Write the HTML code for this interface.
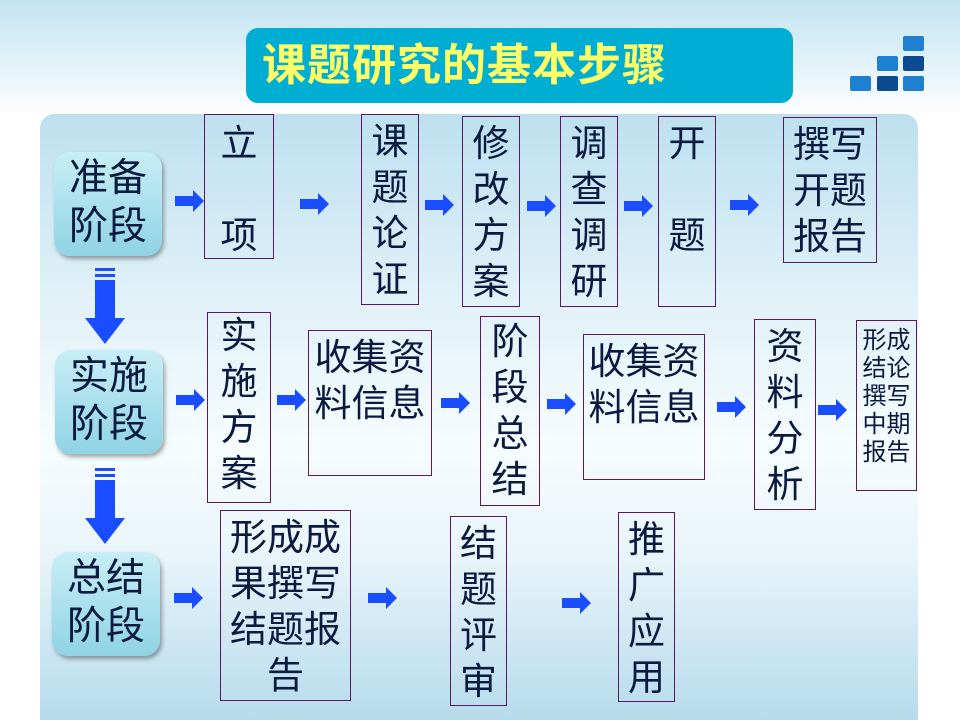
<!DOCTYPE html>
<html><head><meta charset="utf-8"><style>
html,body{margin:0;width:960px;height:720px;overflow:hidden}
body{position:relative;font-family:"Liberation Sans","Noto Sans CJK SC",sans-serif;
background:linear-gradient(#c2e4f1 0px,#eaf6fb 80px,#fff 115px,#fff 720px);}
.panel{position:absolute;left:40px;top:114px;width:878px;height:606px;border-radius:14px 14px 0 0;
background:linear-gradient(#bde0ef 0%,#e0f1f8 30%,#f6fcfe 55%,#eaf5fa 72%,#b6dbec 100%);}
.title{position:absolute;left:246px;top:28px;width:547px;height:75px;background:#00aed3;border-radius:12px;color:#ffff66;font-size:44px;font-weight:bold;line-height:75px;padding-left:16px;box-sizing:border-box;letter-spacing:1px}
.b{position:absolute;border:1.5px solid #5a1860;color:#0a1a40;font-size:37px;line-height:46px;text-align:center;box-sizing:border-box}
.s{position:absolute;width:108px;height:104px;border-radius:16px;background:linear-gradient(#c8eef6,#8fd3e4);box-shadow:2px 3px 4px rgba(0,0,0,.35);color:#0a1a40;font-size:39px;line-height:48px;text-align:center;padding-top:3px;box-sizing:border-box}
.sq{position:absolute;width:21px;height:15px;border-radius:2px}
</style></head><body>
<div class="title">课题研究的基本步骤</div>
<div class="sq" style="left:903px;top:36px;background:#1f7fd0"></div>
<div class="sq" style="left:877px;top:56px;background:#1f7fd0"></div>
<div class="sq" style="left:903px;top:56px;background:#0e4a92"></div>
<div class="sq" style="left:850px;top:76px;background:#1f7fd0"></div>
<div class="sq" style="left:877px;top:76px;background:#0e4a92"></div>
<div class="sq" style="left:903px;top:76px;background:#1f7fd0"></div>
<div class="panel"></div>

<div class="s" style="left:54px;top:152px">准备<br>阶段</div>
<div class="s" style="left:55px;top:350px">实施<br>阶段</div>
<div class="s" style="left:52px;top:552px">总结<br>阶段</div>

<div class="b" style="left:204px;top:114px;width:70px;height:145px;padding-top:6px">立<br><br>项</div>
<div class="b" style="left:361px;top:114px;width:58px;height:191px;padding-top:4px">课<br>题<br>论<br>证</div>
<div class="b" style="left:462px;top:116px;width:58px;height:191px;padding-top:4px">修<br>改<br>方<br>案</div>
<div class="b" style="left:560px;top:116px;width:58px;height:191px;padding-top:4px">调<br>查<br>调<br>研</div>
<div class="b" style="left:658px;top:116px;width:58px;height:191px;padding-top:4px">开<br><br>题</div>
<div class="b" style="left:783px;top:117px;width:94px;height:146px;padding-top:4px">撰写<br>开题<br>报告</div>

<div class="b" style="left:207px;top:312px;width:64px;height:191px;padding-top:0px">实<br>施<br>方<br>案</div>
<div class="b" style="left:308px;top:330px;width:124px;height:146px;padding-top:4px">收集资<br>料信息</div>
<div class="b" style="left:480px;top:316px;width:60px;height:190px;padding-top:2px">阶<br>段<br>总<br>结</div>
<div class="b" style="left:583px;top:334px;width:122px;height:146px;padding-top:4px">收集资<br>料信息</div>
<div class="b" style="left:754px;top:319px;width:62px;height:191px;padding-top:4px">资<br>料<br>分<br>析</div>
<div class="b" style="left:856px;top:320px;width:61px;height:171px;font-size:24px;line-height:28px;padding-top:6px">形成<br>结论<br>撰写<br>中期<br>报告</div>

<div class="b" style="left:220px;top:510px;width:131px;height:191px;padding-top:4px">形成成<br>果撰写<br>结题报<br>告</div>
<div class="b" style="left:450px;top:516px;width:57px;height:190px;padding-top:4px">结<br>题<br>评<br>审</div>
<div class="b" style="left:618px;top:512px;width:57px;height:190px;padding-top:4px">推<br>广<br>应<br>用</div>

<svg width="960" height="720" style="position:absolute;left:0;top:0">
<defs><g id="ar"><polygon points="0,6 18,6 18,0 29,11 18,22 18,16 0,16" fill="#1a4dff"/></g>
<g id="dn"><rect x="0" y="0" width="20" height="3" fill="#1a4dff"/><rect x="0" y="6" width="20" height="3" fill="#1a4dff"/><rect x="0" y="12" width="20" height="38" fill="#1a4dff"/><polygon points="-10,50 30,50 10,76" fill="#1a4dff"/></g></defs>
<use href="#ar" x="175" y="190"/><use href="#ar" x="300" y="193"/><use href="#ar" x="425" y="194"/><use href="#ar" x="527" y="195"/><use href="#ar" x="624" y="195"/><use href="#ar" x="730" y="194"/>
<use href="#ar" x="176" y="389"/><use href="#ar" x="277" y="389"/><use href="#ar" x="441" y="392"/><use href="#ar" x="547" y="393"/><use href="#ar" x="717" y="396"/><use href="#ar" x="818" y="399"/>
<use href="#ar" x="174" y="587"/><use href="#ar" x="368" y="587"/><use href="#ar" x="562" y="592"/>
<use href="#dn" x="95" y="268"/><use href="#dn" x="95" y="468"/>
</svg>
</body></html>
